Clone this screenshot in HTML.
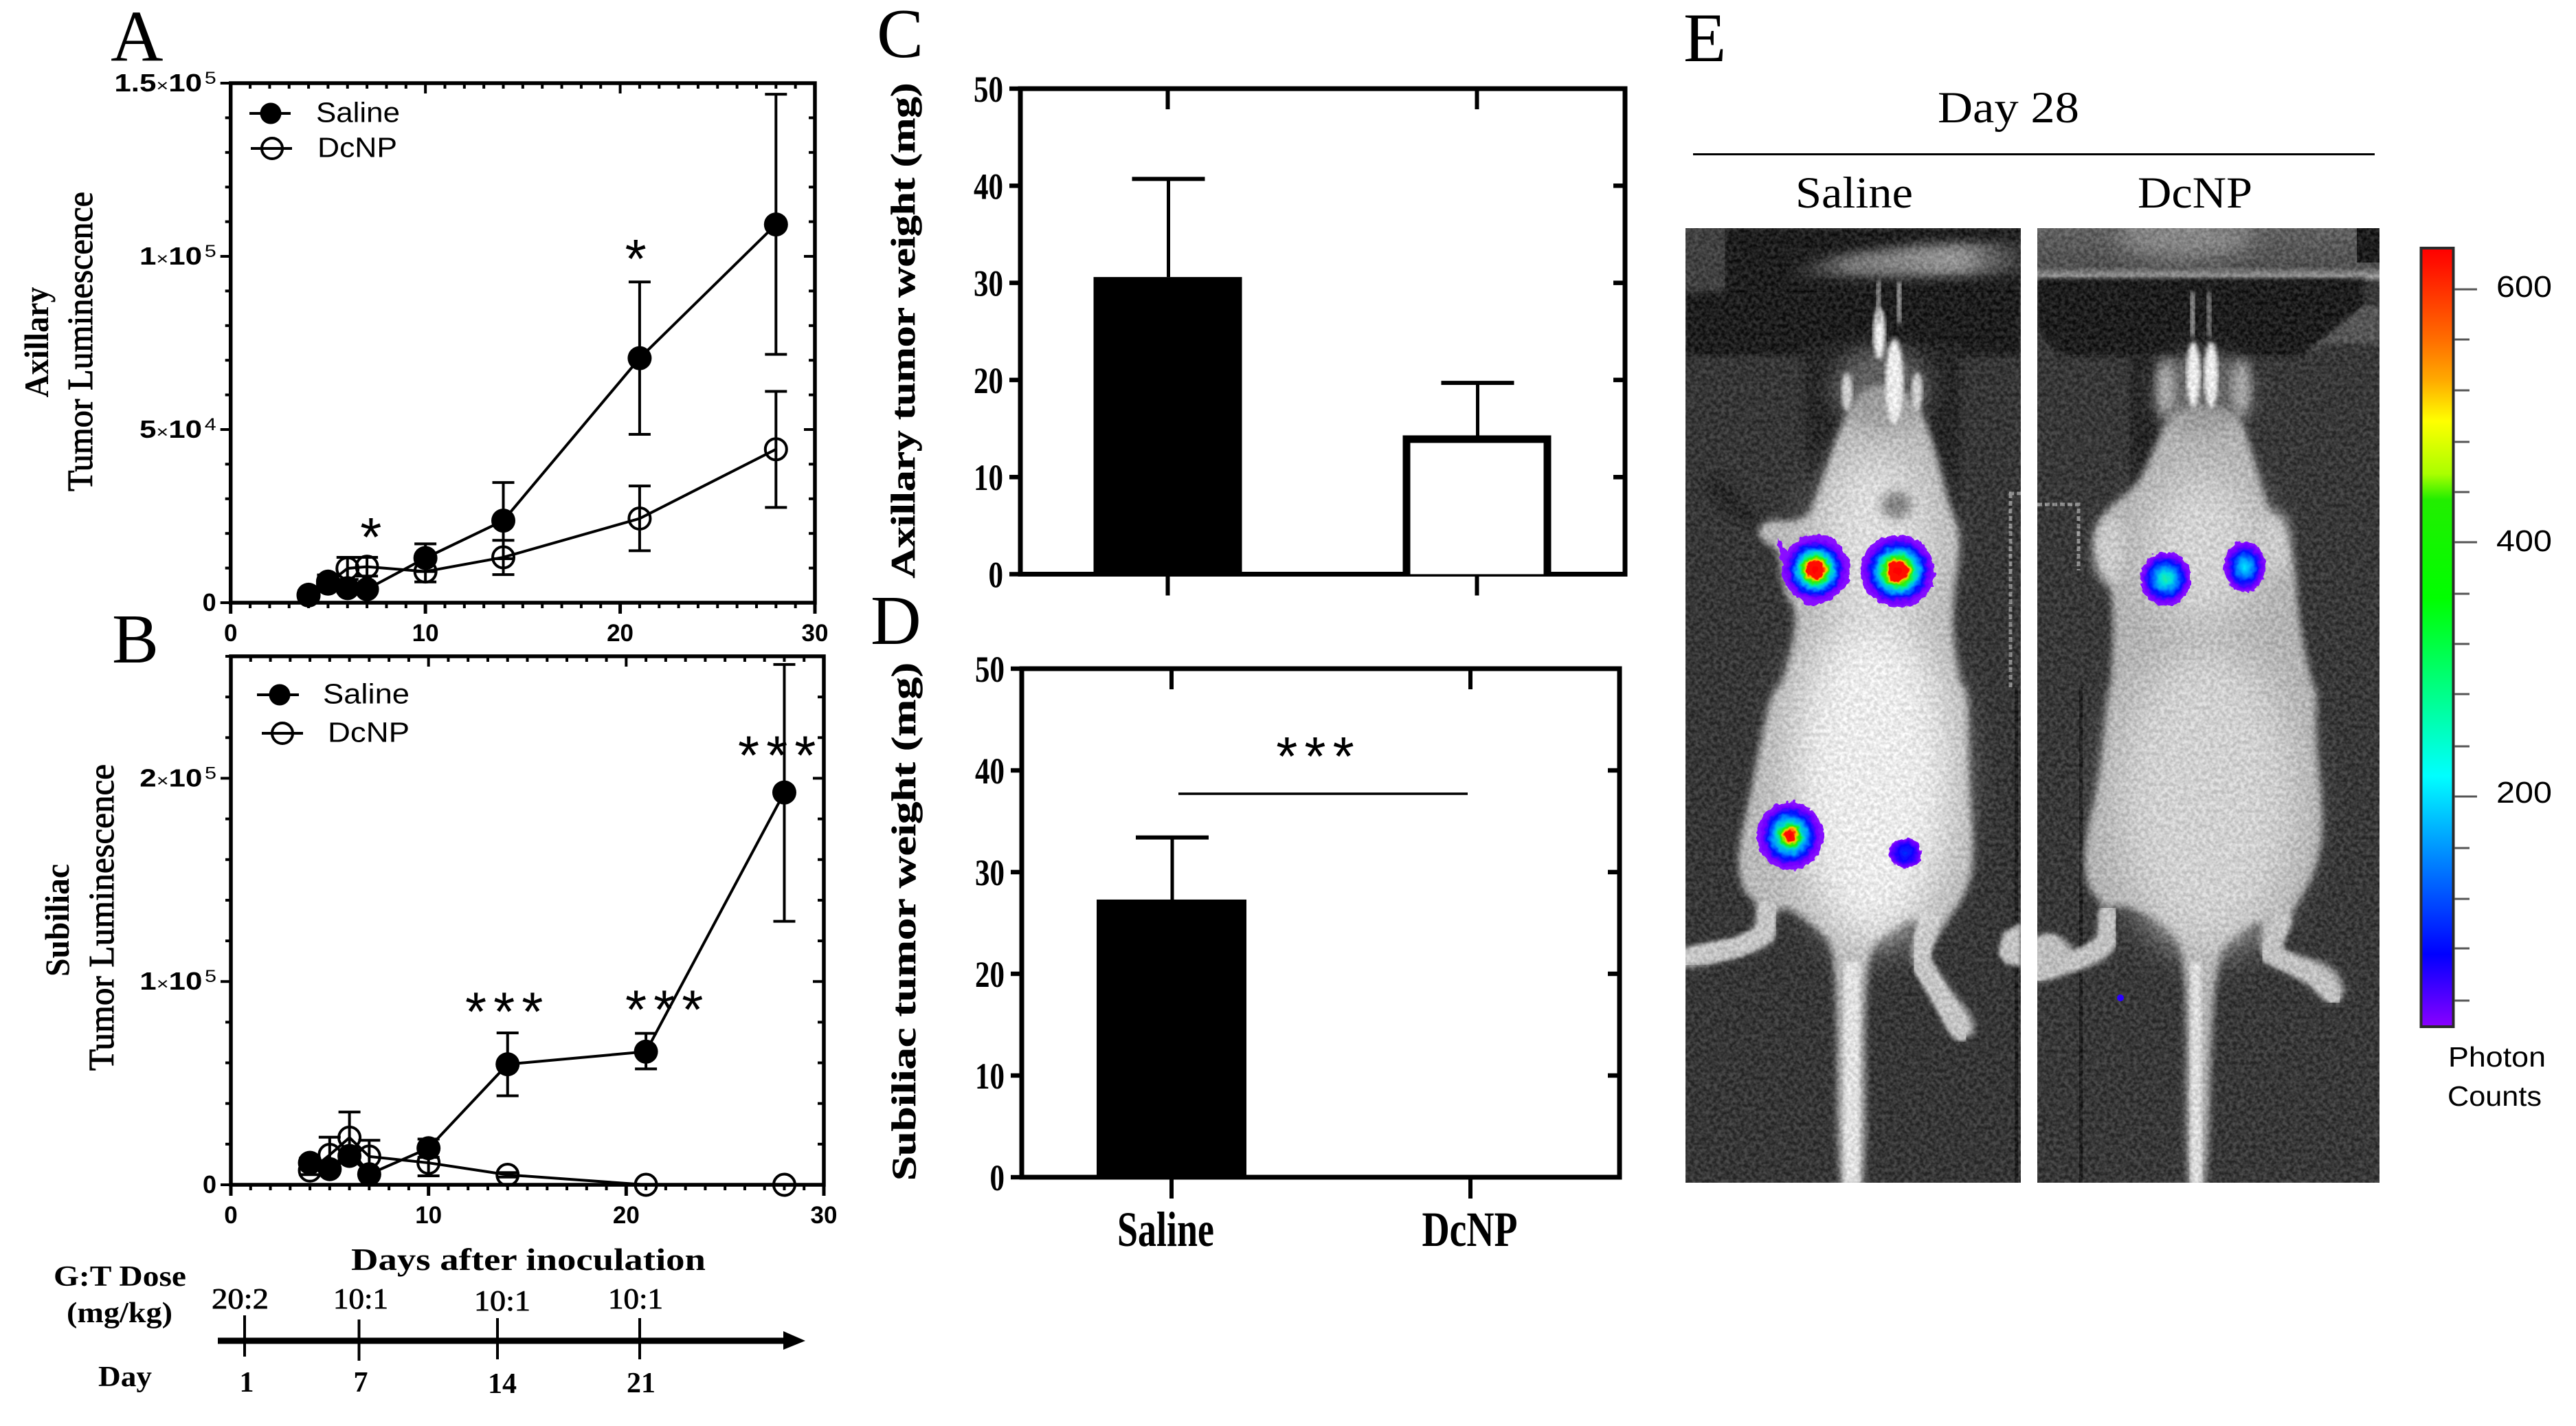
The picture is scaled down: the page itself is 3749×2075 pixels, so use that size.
<!DOCTYPE html>
<html lang="en">
<head>
<meta charset="utf-8">
<title>Tumor luminescence and weight figure</title>
<style>
html,body{margin:0;padding:0;background:#fff;width:3749px;height:2075px;overflow:hidden}
svg{display:block}
.serif{font-family:"Liberation Serif",serif}
.sans{font-family:"Liberation Sans",sans-serif}
</style>
</head>
<body>
<svg id="figure" xmlns="http://www.w3.org/2000/svg" width="3749" height="2075" viewBox="0 0 3749 2075">
<defs>
  <filter id="blur3" x="-10%" y="-10%" width="120%" height="120%"><feGaussianBlur stdDeviation="3"/></filter>
  <filter id="blur5" x="-10%" y="-10%" width="120%" height="120%"><feGaussianBlur stdDeviation="5"/></filter>
  <filter id="blur8" x="-30%" y="-30%" width="160%" height="160%"><feGaussianBlur stdDeviation="8"/></filter>
  <filter id="blur16" x="-50%" y="-50%" width="200%" height="200%"><feGaussianBlur stdDeviation="16"/></filter>
  <filter id="blur30" x="-50%" y="-50%" width="200%" height="200%"><feGaussianBlur stdDeviation="30"/></filter>
  <filter id="noise" x="0" y="0" width="100%" height="100%" color-interpolation-filters="sRGB">
    <feTurbulence type="fractalNoise" baseFrequency="0.18" numOctaves="2" seed="7"/>
    <feColorMatrix type="matrix" values="2.2 0 0 0 -0.6  2.2 0 0 0 -0.6  2.2 0 0 0 -0.6  0 0 0 0 1"/>
  </filter>
  <filter id="jagged" x="-20%" y="-20%" width="140%" height="140%">
    <feTurbulence type="fractalNoise" baseFrequency="0.12" numOctaves="2" seed="3" result="t"/>
    <feDisplacementMap in="SourceGraphic" in2="t" scale="9" xChannelSelector="R" yChannelSelector="G"/>
  </filter>
  <linearGradient id="cbar" x1="0" y1="0" x2="0" y2="1">
    <stop offset="0" stop-color="#ff0000"/>
    <stop offset="0.02" stop-color="#ff1000"/>
    <stop offset="0.12" stop-color="#ff7000"/>
    <stop offset="0.17" stop-color="#ffaa00"/>
    <stop offset="0.222" stop-color="#ffff00"/>
    <stop offset="0.29" stop-color="#aaff00"/>
    <stop offset="0.323" stop-color="#22ee00"/>
    <stop offset="0.45" stop-color="#00ff00"/>
    <stop offset="0.564" stop-color="#00ff80"/>
    <stop offset="0.678" stop-color="#00ffff"/>
    <stop offset="0.79" stop-color="#0080ff"/>
    <stop offset="0.907" stop-color="#0000ff"/>
    <stop offset="1" stop-color="#8a00ff"/>
  </linearGradient>
  <radialGradient id="heatHot">
    <stop offset="0" stop-color="#ff0000"/><stop offset=".26" stop-color="#ff1000"/>
    <stop offset=".3" stop-color="#ffd000"/><stop offset=".38" stop-color="#30f000"/>
    <stop offset=".46" stop-color="#00f0a0"/><stop offset=".56" stop-color="#00b0ff"/>
    <stop offset=".72" stop-color="#0010ff"/><stop offset=".84" stop-color="#7000ff"/>
    <stop offset="1" stop-color="#8a10ff"/>
  </radialGradient>
  <radialGradient id="heatSmallHot">
    <stop offset="0" stop-color="#ff0000"/><stop offset=".14" stop-color="#ff1000"/>
    <stop offset=".2" stop-color="#ffd000"/><stop offset=".28" stop-color="#20f000"/>
    <stop offset=".38" stop-color="#00e0c0"/><stop offset=".5" stop-color="#00a0ff"/>
    <stop offset=".68" stop-color="#0010ff"/><stop offset=".82" stop-color="#7000ff"/>
    <stop offset="1" stop-color="#8a10ff"/>
  </radialGradient>
  <radialGradient id="heatCool">
    <stop offset="0" stop-color="#20f0a0"/><stop offset=".22" stop-color="#00e0e0"/>
    <stop offset=".42" stop-color="#0090ff"/><stop offset=".66" stop-color="#0010ff"/>
    <stop offset=".84" stop-color="#7000ff"/><stop offset="1" stop-color="#8a10ff"/>
  </radialGradient>
  <radialGradient id="heatCyan">
    <stop offset="0" stop-color="#00e8ff"/><stop offset=".3" stop-color="#00a0ff"/>
    <stop offset=".6" stop-color="#0010ff"/><stop offset=".84" stop-color="#7000ff"/>
    <stop offset="1" stop-color="#8a10ff"/>
  </radialGradient>
  <radialGradient id="heatBlue">
    <stop offset="0" stop-color="#0030ff"/><stop offset=".5" stop-color="#1000ff"/>
    <stop offset=".85" stop-color="#6a00ff"/><stop offset="1" stop-color="#8a10ff"/>
  </radialGradient>
  <linearGradient id="bandL" x1="0" y1="0" x2="1" y2="0">
    <stop offset="0" stop-color="#555" stop-opacity="0"/><stop offset=".3" stop-color="#777"/>
    <stop offset=".75" stop-color="#9a9a9a"/><stop offset="1" stop-color="#666" stop-opacity="0.4"/>
  </linearGradient>
  <linearGradient id="topR" x1="0" y1="0" x2="0" y2="1">
    <stop offset="0" stop-color="#5c5c5c"/><stop offset=".7" stop-color="#484848"/>
    <stop offset=".88" stop-color="#a0a0a0"/><stop offset="1" stop-color="#202020"/>
  </linearGradient>
  <clipPath id="clipL"><rect x="2453" y="332" width="488" height="1389"/></clipPath>
  <clipPath id="clipR"><rect x="2965" y="332" width="498" height="1389"/></clipPath>
</defs>

<rect x="0" y="0" width="3749" height="2075" fill="#fff"/>

<!-- panel letters -->
<text class="serif" x="161" y="88" font-size="106">A</text>
<text class="serif" x="163" y="964" font-size="102">B</text>
<text class="serif" x="1276" y="83" font-size="102">C</text>
<text class="serif" x="1267" y="937" font-size="102">D</text>
<text class="serif" x="2450" y="89" font-size="102">E</text>

<!-- axis titles -->
<text class="serif" font-weight="bold" font-size="50" text-anchor="middle" textLength="161" lengthAdjust="spacingAndGlyphs" transform="translate(70 498) rotate(-90)">Axillary</text>
<text class="serif" font-size="52" text-anchor="middle" textLength="436" lengthAdjust="spacingAndGlyphs" stroke="#000" stroke-width="1" transform="translate(134 497) rotate(-90)">Tumor Luminescence</text>
<text class="serif" font-weight="bold" font-size="50" text-anchor="middle" textLength="164" lengthAdjust="spacingAndGlyphs" transform="translate(100 1339) rotate(-90)">Subiliac</text>
<text class="serif" font-size="52" text-anchor="middle" textLength="446" lengthAdjust="spacingAndGlyphs" stroke="#000" stroke-width="1" transform="translate(165 1335) rotate(-90)">Tumor Luminescence</text>
<text class="serif" font-weight="bold" font-size="50" text-anchor="middle" textLength="721" lengthAdjust="spacingAndGlyphs" stroke="#000" stroke-width="0.6" transform="translate(1331 481) rotate(-90)">Axillary tumor weight (mg)</text>
<text class="serif" font-weight="bold" font-size="50" text-anchor="middle" textLength="754" lengthAdjust="spacingAndGlyphs" stroke="#000" stroke-width="0.6" transform="translate(1332 1341) rotate(-90)">Subiliac tumor weight (mg)</text>
<text class="serif" font-weight="bold" font-size="46" x="511" y="1848" textLength="516" lengthAdjust="spacingAndGlyphs">Days after inoculation</text>

<!-- charts drawn by script -->
<g id="panelA"></g>
<g id="panelB"></g>
<g id="panelC"></g>
<g id="panelD"></g>

<!-- dosing timeline -->
<g>
  <text class="serif" font-weight="bold" font-size="42" x="78" y="1871" textLength="193" lengthAdjust="spacingAndGlyphs">G:T Dose</text>
  <text class="serif" font-weight="bold" font-size="42" x="97" y="1924" textLength="154" lengthAdjust="spacingAndGlyphs">(mg/kg)</text>
  <text class="serif" font-weight="bold" font-size="42" x="143" y="2017" textLength="78" lengthAdjust="spacingAndGlyphs">Day</text>
  <rect x="317" y="1946.5" width="830" height="9"/>
  <polygon points="1140,1937 1172,1951 1140,1964"/>
  <rect x="354" y="1914" width="4" height="60"/>
  <rect x="520.5" y="1920" width="4" height="60"/>
  <rect x="722" y="1918" width="4" height="60"/>
  <rect x="929" y="1918" width="4" height="60"/>
  <text class="serif" font-size="42" x="308" y="1904" textLength="83" lengthAdjust="spacingAndGlyphs" stroke="#000" stroke-width="0.8">20:2</text>
  <text class="serif" font-size="42" x="485" y="1904" textLength="80" lengthAdjust="spacingAndGlyphs" stroke="#000" stroke-width="0.8">10:1</text>
  <text class="serif" font-size="42" x="690" y="1907" textLength="82" lengthAdjust="spacingAndGlyphs" stroke="#000" stroke-width="0.8">10:1</text>
  <text class="serif" font-size="42" x="885" y="1904" textLength="80" lengthAdjust="spacingAndGlyphs" stroke="#000" stroke-width="0.8">10:1</text>
  <text class="serif" font-weight="bold" font-size="42" x="359" y="2025" text-anchor="middle">1</text>
  <text class="serif" font-weight="bold" font-size="42" x="525" y="2025" text-anchor="middle">7</text>
  <text class="serif" font-weight="bold" font-size="42" x="731" y="2027" text-anchor="middle">14</text>
  <text class="serif" font-weight="bold" font-size="42" x="933" y="2026" text-anchor="middle">21</text>
</g>

<!-- panel E headings -->
<text class="serif" font-size="65" x="2820" y="178" textLength="206" lengthAdjust="spacingAndGlyphs">Day 28</text>
<rect x="2464" y="223" width="992" height="3"/>
<text class="serif" font-size="65" x="2613" y="302" textLength="171" lengthAdjust="spacingAndGlyphs">Saline</text>
<text class="serif" font-size="65" x="3111" y="302" textLength="167" lengthAdjust="spacingAndGlyphs">DcNP</text>

<!-- saline mouse image -->
<g clip-path="url(#clipL)">
  <rect x="2453" y="332" width="488" height="1389" fill="#2a2a2a"/>
  <rect x="2510" y="332" width="431" height="110" fill="#0f0f0f" filter="url(#blur3)"/>
  <rect x="2453" y="332" width="57" height="95" fill="#363636"/>
  <path d="M2590 392L2680 370L2800 356L2941 352V398L2800 402L2620 402Z" fill="url(#bandL)" filter="url(#blur8)"/>
  <rect x="2453" y="425" width="488" height="92" fill="#0d0d0d" filter="url(#blur3)"/>
  <rect x="2628" y="500" width="224" height="270" fill="#141414" filter="url(#blur5)"/>
  <rect x="2932" y="1000" width="5" height="721" fill="#101010"/>
  <path d="M2924 718H2941M2926 718V1000" stroke="#8f8f8f" stroke-width="5" stroke-dasharray="7 4" fill="none"/>
  <path d="M2941 1343L2915 1358L2908 1388L2920 1403L2941 1406Z" fill="#d0d0d0" filter="url(#blur3)"/>
  <path class="smooth" fill="#c4c4c4" filter="url(#blur5)" d="M2708 561L2674 631L2662 670L2642 727L2632 753L2602 759L2573 756L2556 772L2568 791L2589 797L2594 861L2619 893L2594 1000L2581 1000L2564 1069L2547 1158L2528 1240L2534 1295L2560 1315L2556 1350L2539 1367L2440 1380L2440 1414L2530 1391L2581 1374L2581 1336L2594 1315L2649 1353L2674 1387L2674 1770L2717 1770L2712 1391L2746 1356L2789 1332L2793 1350L2776 1391L2818 1452L2835 1507L2873 1511L2873 1480L2835 1439L2801 1391L2827 1350L2869 1288L2873 1226L2865 1137L2865 1000L2852 1000L2839 893L2856 778L2835 733L2818 657L2793 587L2759 561Z"/>
  <polyline points="2445,1396 2530,1378 2570,1358 2572,1320" fill="none" stroke="#d2d2d2" stroke-width="28" stroke-linecap="round" stroke-linejoin="round" filter="url(#blur3)"/>
  <polyline points="2808,1340 2792,1395 2832,1462 2855,1500" fill="none" stroke="#d2d2d2" stroke-width="30" stroke-linecap="round" stroke-linejoin="round" filter="url(#blur3)"/>
  <ellipse cx="2725" cy="1130" rx="115" ry="240" fill="#fff" filter="url(#blur30)"/>
  <ellipse cx="2730" cy="790" rx="80" ry="130" fill="#eee" filter="url(#blur30)"/>
  <rect x="2684" y="1400" width="22" height="321" fill="#f4f4f4" filter="url(#blur3)"/>
  <ellipse cx="2760" cy="735" rx="22" ry="20" fill="#808080" filter="url(#blur8)"/>
  <path d="M2478 690L2510 700L2560 755L2545 765L2500 735Z" fill="#161616" filter="url(#blur8)"/>
  <ellipse cx="2738" cy="565" rx="72" ry="60" fill="#8a8a8a" opacity="0.6" filter="url(#blur16)"/>
  <ellipse cx="2735" cy="485" rx="9" ry="38" fill="#fff" filter="url(#blur3)"/>
  <ellipse cx="2757" cy="555" rx="13" ry="62" fill="#fff" filter="url(#blur3)"/>
  <rect x="2731" y="410" width="6" height="60" fill="#a8a8a8" filter="url(#blur3)"/>
  <rect x="2761" y="410" width="6" height="60" fill="#bbb" filter="url(#blur3)"/>
  <ellipse cx="2688" cy="570" rx="8" ry="28" fill="#e0e0e0" filter="url(#blur3)"/>
  <ellipse cx="2790" cy="570" rx="8" ry="28" fill="#e0e0e0" filter="url(#blur3)"/>
  <rect x="2453" y="332" width="488" height="1389" filter="url(#noise)" opacity="0.15"/>
  <g filter="url(#jagged)">
    <path fill="#8a10ff" d="M2586 782L2600 800L2625 778L2665 780L2693 815L2690 850L2650 881L2630 880L2598 850Z"/>
    <ellipse cx="2642" cy="829" rx="48" ry="48" fill="url(#heatHot)"/>
    <ellipse cx="2762" cy="831" rx="54" ry="53" fill="url(#heatHot)"/>
    <ellipse cx="2605" cy="1216" rx="48" ry="50" fill="url(#heatSmallHot)"/>
    <ellipse cx="2773" cy="1241" rx="24" ry="22" fill="url(#heatBlue)"/>
  </g>
</g>

<!-- DcNP mouse image -->
<g clip-path="url(#clipR)">
  <rect x="2965" y="332" width="498" height="1389" fill="#2c2c2c"/>
  <rect x="2965" y="332" width="498" height="80" fill="url(#topR)"/>
  <ellipse cx="3180" cy="345" rx="100" ry="30" fill="#8a8a8a" filter="url(#blur16)"/>
  <rect x="3430" y="332" width="33" height="50" fill="#0c0c0c"/>
  <path d="M2965 405H3440L3440 445L3350 518H3000L2965 480Z" fill="#0e0e0e" filter="url(#blur3)"/>
  <path d="M3350 518L3440 445H3463V500H3385Z" fill="#505050" filter="url(#blur3)"/>
  <rect x="3100" y="518" width="40" height="210" fill="#161616" filter="url(#blur5)"/>
  <rect x="3026" y="1000" width="5" height="721" fill="#101010"/>
  <path d="M2965 734H3025V830" stroke="#959595" stroke-width="5" stroke-dasharray="7 4" fill="none"/>
  <path class="smooth" fill="#bcbcbc" filter="url(#blur5)" d="M3166 587L3136 650L3111 708L3064 740L3043 797L3077 855L3073 1000L3068 1000L3056 1137L3034 1219L3034 1288L3064 1319L3081 1391L3022 1411L2950 1436L2950 1360L3005 1363L3022 1391L3056 1370L3058 1330L3064 1319L3106 1319L3157 1350L3183 1391L3181 1770L3212 1770L3221 1391L3259 1356L3297 1332L3284 1391L3352 1425L3386 1456L3413 1456L3407 1418L3378 1398L3310 1384L3331 1336L3386 1240L3369 1069L3373 1000L3365 1000L3344 893L3340 804L3301 746L3276 650L3255 593Z"/>
  <polyline points="2955,1418 3030,1394 3066,1372 3068,1330" fill="none" stroke="#cccccc" stroke-width="28" stroke-linecap="round" stroke-linejoin="round" filter="url(#blur3)"/>
  <ellipse cx="2982" cy="1385" rx="24" ry="26" fill="#c8c8c8" filter="url(#blur3)"/>
  <polyline points="3322,1340 3302,1388 3368,1418 3396,1448" fill="none" stroke="#cccccc" stroke-width="28" stroke-linecap="round" stroke-linejoin="round" filter="url(#blur3)"/>
  <ellipse cx="3212" cy="1160" rx="130" ry="220" fill="#e0e0e0" filter="url(#blur30)"/>
  <ellipse cx="3205" cy="800" rx="85" ry="110" fill="#e2e2e2" filter="url(#blur30)"/>
  <ellipse cx="3070" cy="800" rx="22" ry="50" fill="#d8d8d8" filter="url(#blur8)"/>
  <ellipse cx="3310" cy="790" rx="22" ry="45" fill="#d8d8d8" filter="url(#blur8)"/>
  <rect x="3188" y="1400" width="16" height="321" fill="#eee" filter="url(#blur3)"/>
  <ellipse cx="3205" cy="570" rx="72" ry="58" fill="#8a8a8a" opacity="0.6" filter="url(#blur16)"/>
  <ellipse cx="3192" cy="545" rx="10" ry="48" fill="#fff" filter="url(#blur3)"/>
  <ellipse cx="3218" cy="545" rx="10" ry="48" fill="#fff" filter="url(#blur3)"/>
  <rect x="3188" y="425" width="6" height="65" fill="#b0b0b0" filter="url(#blur3)"/>
  <rect x="3212" y="425" width="6" height="65" fill="#909090" filter="url(#blur3)"/>
  <ellipse cx="3152" cy="565" rx="12" ry="42" fill="#bbb" filter="url(#blur8)"/>
  <ellipse cx="3262" cy="565" rx="12" ry="42" fill="#bbb" filter="url(#blur8)"/>
  <rect x="2965" y="332" width="498" height="1389" filter="url(#noise)" opacity="0.15"/>
  <g filter="url(#jagged)">
    <ellipse cx="3152" cy="842" rx="37" ry="39" fill="url(#heatCool)"/>
    <ellipse cx="3267" cy="825" rx="30" ry="37" fill="url(#heatCyan)"/>
  </g>
  <circle cx="3086" cy="1452" r="5" fill="#2a00ff"/>
</g>

<!-- colour bar -->
<g>
  <rect x="3523.5" y="361" width="47" height="1133" fill="url(#cbar)" stroke="#2b2b2b" stroke-width="4"/>
  <g stroke="#555" stroke-width="3">
    <line x1="3572" x2="3605" y1="421" y2="421"/>
    <line x1="3572" x2="3594" y1="494" y2="494"/>
    <line x1="3572" x2="3594" y1="568" y2="568"/>
    <line x1="3572" x2="3594" y1="643" y2="643"/>
    <line x1="3572" x2="3594" y1="716" y2="716"/>
    <line x1="3572" x2="3605" y1="789" y2="789"/>
    <line x1="3572" x2="3594" y1="864" y2="864"/>
    <line x1="3572" x2="3594" y1="937" y2="937"/>
    <line x1="3572" x2="3594" y1="1010" y2="1010"/>
    <line x1="3572" x2="3594" y1="1086" y2="1086"/>
    <line x1="3572" x2="3605" y1="1159" y2="1159"/>
    <line x1="3572" x2="3594" y1="1234" y2="1234"/>
    <line x1="3572" x2="3594" y1="1308" y2="1308"/>
    <line x1="3572" x2="3594" y1="1380" y2="1380"/>
    <line x1="3572" x2="3594" y1="1456" y2="1456"/>
  </g>
  <text class="sans" font-size="44" x="3633" y="432" textLength="81" lengthAdjust="spacingAndGlyphs">600</text>
  <text class="sans" font-size="44" x="3633" y="802" textLength="81" lengthAdjust="spacingAndGlyphs">400</text>
  <text class="sans" font-size="44" x="3633" y="1168" textLength="81" lengthAdjust="spacingAndGlyphs">200</text>
  <text class="sans" font-size="41" x="3563" y="1552" textLength="142" lengthAdjust="spacingAndGlyphs">Photon</text>
  <text class="sans" font-size="41" x="3562" y="1609" textLength="137" lengthAdjust="spacingAndGlyphs">Counts</text>
</g>

<script>
/* ---------- Panel A: axillary luminescence ---------- */
const daysA = [4, 5, 6, 7, 10, 14, 21, 28];
const salineA = [2300, 6100, 4200, 3900, 12900, 23700, 70600, 109200];
const salineAUpper = [3500, 8000, 5500, 5000, 17000, 34700, 92600, 146800];
const salineALower = [1200, 4500, 3000, 2800, 9000, 12700, 48600, 71700];
const dcnpA = [2100, 5500, 9900, 10400, 9000, 13100, 24300, 44300];
const dcnpAUpper = [2800, 7000, 13100, 13100, 12000, 18000, 33700, 61000];
const dcnpALower = [1400, 4000, 6700, 7700, 6000, 8100, 15000, 27500];
const xTickValues = [0, 10, 20, 30];
const yTickValuesA = [0, 50000, 100000, 150000];
const yTickLabelsA = ['0', '5×10^4', '1×10^5', '1.5×10^5'];
const starDaysA = [7.2, 20.8];
const starValuesA = [22600, 103000];
const starTextA = ['*', '*'];

/* ---------- Panel B: subiliac luminescence ---------- */
const daysB = [4, 5, 6, 7, 10, 14, 21, 28];
const salineB = [10800, 7700, 14200, 5200, 18000, 59300, 65500, 193000];
const salineBUpper = [13000, 9500, 17000, 7000, 22500, 74700, 74500, 256000];
const salineBLower = [8500, 6000, 11500, 3500, 13500, 43800, 57000, 129600];
const dcnpB = [7000, 14700, 23200, 13900, 10800, 4900, 0, 0];
const dcnpBUpper = [9000, 23400, 35800, 21900, 17000, 6000, 0, 0];
const dcnpBLower = [5000, 6000, 10600, 5900, 4400, 3800, 0, 0];
const yTickValuesB = [0, 100000, 200000];
const yTickLabelsB = ['0', '1×10^5', '2×10^5'];
const starDaysB = [14, 22.1, 27.8];
const starValuesB = [91500, 92500, 217500];
const starTextB = ['***', '***', '***'];

/* ---------- Panels C and D: tumor weight ---------- */
const weightCategories = ['Saline', 'DcNP'];
const weightTickValues = [0, 10, 20, 30, 40, 50];
const axillaryWeight = [30.6, 14.3];
const axillaryWeightUpper = [40.7, 19.7];
const subiliacWeight = [27.3, 0];
const subiliacWeightUpper = [33.4, 0];

const SVG_NS = 'http://www.w3.org/2000/svg';

function add(parent, tag, attrs, text) {
  const node = document.createElementNS(SVG_NS, tag);
  for (const key in attrs) node.setAttribute(key, attrs[key]);
  if (text !== undefined) node.textContent = text;
  parent.appendChild(node);
  return node;
}
function linear(d0, d1, r0, r1) {
  return function (v) { return r0 + (v - d0) * (r1 - r0) / (d1 - d0); };
}

/* round the corners of the traced mouse outlines */
document.querySelectorAll('path.smooth').forEach(function (p) {
  const nums = p.getAttribute('d').match(/[\d.]+/g).map(Number);
  const pts = [];
  for (let i = 0; i < nums.length; i += 2) pts.push([nums[i], nums[i + 1]]);
  const mid = function (a, b) { return [(a[0] + b[0]) / 2, (a[1] + b[1]) / 2]; };
  const start = mid(pts[pts.length - 1], pts[0]);
  let d = 'M' + start[0] + ' ' + start[1];
  pts.forEach(function (pt, i) {
    const m = mid(pt, pts[(i + 1) % pts.length]);
    d += 'Q' + pt[0] + ' ' + pt[1] + ' ' + m[0] + ' ' + m[1];
  });
  p.setAttribute('d', d + 'Z');
});

function drawSeries(g, name, filled, days, vals, upper, lower, x, y) {
  const pts = days.map(function (d, i) { return x(d) + ',' + y(vals[i]); }).join(' ');
  const line = add(g, 'polyline', { points: pts, fill: 'none', stroke: '#000', 'stroke-width': 4 });
  
  
  days.forEach(function (d, i) {
    const px = x(d);
    const stem = add(g, 'line', { x1: px, x2: px, y1: y(upper[i]), y2: y(lower[i]), stroke: '#000', 'stroke-width': 4 });
    
    
    const capTop = add(g, 'line', { x1: px - 16, x2: px + 16, y1: y(upper[i]), y2: y(upper[i]), stroke: '#000', 'stroke-width': 4 });
    
    
    const capLow = add(g, 'line', { x1: px - 16, x2: px + 16, y1: y(lower[i]), y2: y(lower[i]), stroke: '#000', 'stroke-width': 4 });
    
    
    const dot = add(g, 'circle', filled
      ? { cx: px, cy: y(vals[i]), r: 17.5, fill: '#000' }
      : { cx: px, cy: y(vals[i]), r: 15.5, fill: 'none', stroke: '#000', 'stroke-width': 4 });
    
    
  });
}

function tickMark(g, name, x1, y1, x2, y2, w) {
  const t = add(g, 'line', { x1: x1, y1: y1, x2: x2, y2: y2, stroke: '#000', 'stroke-width': w });
  
  
}

function drawLineFrame(g, f, x, y, yMax, yMinorStep, yVals, yLabels) {
  const frame = add(g, 'rect', { x: f.l, y: f.t, width: f.r - f.l, height: f.b - f.t, fill: 'none', stroke: '#000', 'stroke-width': 5.5 });
  
  
  for (let d = 0; d <= 30; d += 1) {
    const major = xTickValues.indexOf(d) >= 0;
    tickMark(g, 'x-tick-top', x(d), f.t, x(d), f.t + (major ? 15 : 8), 4);
    tickMark(g, 'x-tick-bottom', x(d), f.b, x(d), f.b + (major ? 16 : 8), major ? 5 : 4);
  }
  for (let v = 0; v <= yMax + 1; v += yMinorStep) {
    const major = yVals.indexOf(v) >= 0;
    tickMark(g, 'y-tick-left', f.l - (major ? 15 : 8), y(v), f.l, y(v), 4);
    tickMark(g, 'y-tick-right', f.r - (major ? 16 : 9), y(v), f.r, y(v), 4);
  }
  xTickValues.forEach(function (v) {
    const lab = add(g, 'text', { x: x(v), y: f.b + 56, 'text-anchor': 'middle', 'font-size': 35, 'font-weight': 'bold', class: 'sans' }, String(v));
    
    
  });
  yVals.forEach(function (v, i) {
    const ax = f.l - 21;
    const parts = yLabels[i].split('×');
    const lab = add(g, 'text', { x: ax, y: y(v) + 12, 'text-anchor': 'end', 'font-size': 36, 'font-weight': 'bold', class: 'sans' });
    
    
    add(lab, 'tspan', {}, parts[0]);
    if (parts[1]) {
      const pow = parts[1].split('^');
      add(lab, 'tspan', { 'font-size': 25, 'font-weight': 'normal' }, '×');
      add(lab, 'tspan', {}, pow[0]);
      add(lab, 'tspan', { 'font-size': 25, 'font-weight': 'normal', dy: -11, dx: 3 }, pow[1]);
      lab.setAttribute('transform', 'translate(' + ax + ' 0) scale(1.22 1) translate(' + (-ax) + ' 0)');
    }
  });
}

function drawStars(g, x, y, days, vals, txt) {
  days.forEach(function (d, i) {
    const s = add(g, 'text', { x: x(d), y: y(vals[i]) + 46, 'text-anchor': 'middle', 'font-size': 80, 'letter-spacing': txt[i].length > 1 ? 10 : 0, class: 'sans' }, txt[i]);
    
    
  });
}

function drawLegend(g, sx, sy, sm, tx, tw, dx, dy, dm, tx2, tw2, lineL, lineR, lineL2, lineR2) {
  const entry1 = add(g, 'g', {});
  
  
  add(entry1, 'line', { x1: lineL, x2: lineR, y1: sy, y2: sy, stroke: '#000', 'stroke-width': 4 });
  add(entry1, 'circle', { cx: sm, cy: sy, r: 15.5, fill: '#000' });
  add(entry1, 'text', { x: tx, y: sy + 12.5, 'font-size': 41, textLength: tw, lengthAdjust: 'spacingAndGlyphs', class: 'sans' }, 'Saline');
  const entry2 = add(g, 'g', {});
  
  
  add(entry2, 'line', { x1: lineL2, x2: lineR2, y1: dy, y2: dy, stroke: '#000', 'stroke-width': 4 });
  add(entry2, 'circle', { cx: dm, cy: dy, r: 15, fill: 'none', stroke: '#000', 'stroke-width': 4 });
  add(entry2, 'text', { x: tx2, y: dy + 12.5, 'font-size': 41, textLength: tw2, lengthAdjust: 'spacingAndGlyphs', class: 'sans' }, 'DcNP');
}

/* Panel A */
(function () {
  const g = document.getElementById('panelA');
  const f = { l: 335.7, r: 1186, t: 121, b: 877 };
  const x = linear(0, 30, f.l, f.r);
  const y = linear(0, 150000, f.b, f.t);
  drawLineFrame(g, f, x, y, 150000, 10000, yTickValuesA, yTickLabelsA);
  drawSeries(g, 'dcnp-axillary', false, daysA, dcnpA, dcnpAUpper, dcnpALower, x, y);
  drawSeries(g, 'saline-axillary', true, daysA, salineA, salineAUpper, salineALower, x, y);
  drawStars(g, x, y, starDaysA, starValuesA, starTextA);
  drawLegend(g, 363, 165, 394, 460, 122, 365, 216, 396, 462, 116, 363, 423, 365, 425);
})();

/* Panel B */
(function () {
  const g = document.getElementById('panelB');
  const f = { l: 336, r: 1199, t: 955, b: 1724 };
  const x = linear(0, 30, f.l, f.r);
  const y = linear(0, 260000, f.b, f.t);
  drawLineFrame(g, f, x, y, 260000, 20000, yTickValuesB, yTickLabelsB);
  drawSeries(g, 'dcnp-subiliac', false, daysB, dcnpB, dcnpBUpper, dcnpBLower, x, y);
  drawSeries(g, 'saline-subiliac', true, daysB, salineB, salineBUpper, salineBLower, x, y);
  drawStars(g, x, y, starDaysB, starValuesB, starTextB);
  drawLegend(g, 374, 1011, 407, 470, 126, 381, 1067, 411, 477, 119, 374, 435, 381, 441);
})();

function drawBars(g, f, vals, upper, showLabels) {
  const y = linear(0, 50, f.b, f.t);
  const x = function (i) { return f.c0 + i * f.step; };
  const frame = add(g, 'rect', { x: f.l, y: f.t, width: f.r - f.l, height: f.b - f.t, fill: 'none', stroke: '#000', 'stroke-width': 7 });
  
  
  weightTickValues.forEach(function (v) {
    tickMark(g, 'y-tick-left', f.l - 16, y(v), f.l, y(v), 6.5);
    if (v > 0 && v < 50) tickMark(g, 'y-tick-right', f.r - 17, y(v), f.r, y(v), 6.5);
    const lab = add(g, 'text', { x: f.l - 25, y: y(v) + 19, 'text-anchor': 'end', 'font-size': 54, 'font-weight': 'bold', textLength: String(v).length * 21.5, lengthAdjust: 'spacingAndGlyphs', class: 'serif' }, String(v));
    
    
  });
  weightCategories.forEach(function (name, i) {
    const cx = x(i);
    tickMark(g, 'x-tick-top', cx, f.t, cx, f.t + 30, 6);
    tickMark(g, 'x-tick-bottom', cx, f.b, cx, f.b + 31, 6);
    if (vals[i] > 0) {
      const stem = add(g, 'line', { x1: cx + 1, x2: cx + 1, y1: y(upper[i]), y2: y(vals[i]), stroke: '#000', 'stroke-width': 5 });
      
      
      const cap = add(g, 'line', { x1: cx + 1 - 53, x2: cx + 1 + 53, y1: y(upper[i]), y2: y(upper[i]), stroke: '#000', 'stroke-width': 6 });
      
      
      const left = cx - f.bw / 2 + 5.5;
      const right = cx + f.bw / 2 - 5.5;
      const bar = i === 0
        ? add(g, 'rect', { x: cx - f.bw / 2, y: y(vals[i]), width: f.bw, height: f.b - y(vals[i]), fill: '#000' })
        : add(g, 'path', { d: 'M' + left + ' ' + f.b + 'V' + (y(vals[i]) + 5.5) + 'H' + right + 'V' + f.b, fill: '#fff', stroke: '#000', 'stroke-width': 11 });
      
      
    }
    if (showLabels) {
      const lab = add(g, 'text', { x: cx + f.labelShift[i], y: f.b + 100, 'text-anchor': 'middle', 'font-size': 72, 'font-weight': 'bold', textLength: f.labelWidth[i], lengthAdjust: 'spacingAndGlyphs', class: 'serif' }, name);
      
      
    }
  });
}

/* Panel C */
drawBars(document.getElementById('panelC'),
  { l: 1485, r: 2365, t: 129, b: 835.5, c0: 1699.5, step: 450, bw: 216 },
  axillaryWeight, axillaryWeightUpper, false);

/* Panel D */
(function () {
  const g = document.getElementById('panelD');
  drawBars(g,
    { l: 1487, r: 2357, t: 973, b: 1713, c0: 1705, step: 435, bw: 218, labelShift: [-8.5, -1], labelWidth: [141, 139] },
    subiliacWeight, subiliacWeightUpper, true);
  const rule = add(g, 'line', { x1: 1715, x2: 2136, y1: 1155, y2: 1155, stroke: '#000', 'stroke-width': 3.5 });
  
  
  const stars = add(g, 'text', { x: 1919, y: 1128, 'text-anchor': 'middle', 'font-size': 80, 'letter-spacing': 10, class: 'sans' }, '***');
  
  
})();
</script>
</svg>
</body>
</html>
